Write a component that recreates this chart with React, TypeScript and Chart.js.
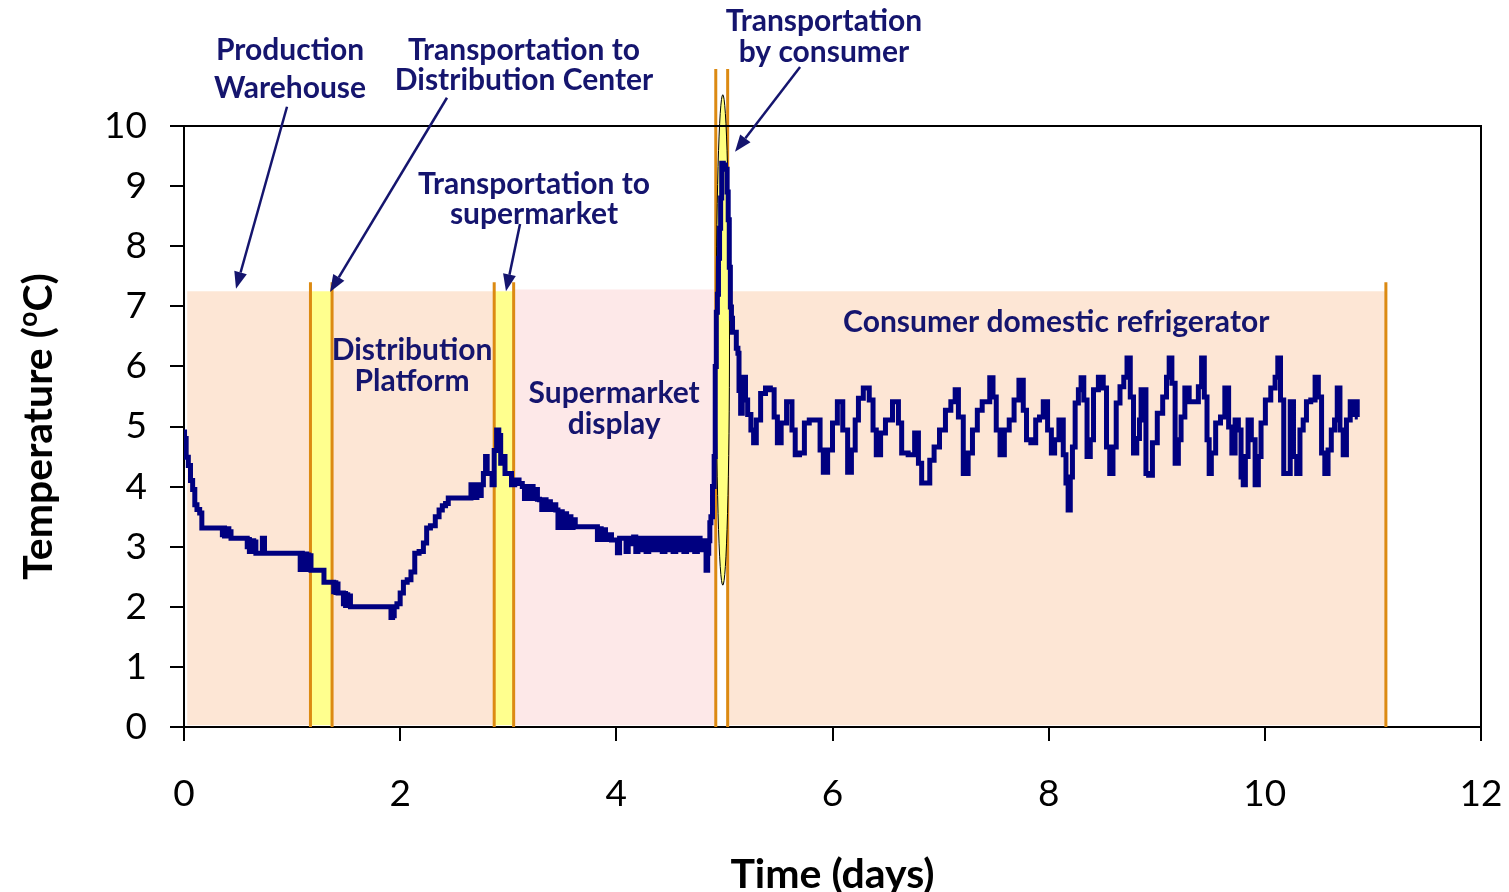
import React, { useEffect, useRef } from 'react';
import { Chart, registerables } from 'chart.js';

Chart.register(...registerables);

// ---------- data ----------
const xTickValues = [0, 2, 4, 6, 8, 10, 12];
const yTickValues = [0, 1, 2, 3, 4, 5, 6, 7, 8, 9, 10];

// [day, °C] readings per stage
const warehouseReadings = [
  [0, 4.91], [0.01, 4.8], [0.03, 4.49], [0.05, 4.35], [0.07, 4.1], [0.09, 3.95], [0.11, 3.7], [0.13, 3.62],
  [0.16, 3.56], [0.17, 3.31], [0.35, 3.31], [0.36, 3.2], [0.37, 3.31], [0.38, 3.18], [0.39, 3.3], [0.4, 3.18],
  [0.41, 3.3], [0.42, 3.18], [0.43, 3.25], [0.44, 3.14], [0.58, 3.14], [0.59, 3.0], [0.6, 3.12], [0.61, 2.92],
  [0.62, 3.1], [0.63, 2.92], [0.64, 3.1], [0.65, 2.92], [0.66, 3.08], [0.67, 2.89], [0.72, 2.89], [0.73, 3.14],
  [0.74, 3.14], [0.75, 2.89], [1.07, 2.89], [1.08, 2.62], [1.09, 2.89], [1.1, 2.62], [1.11, 2.88], [1.12, 2.62],
  [1.13, 2.88], [1.14, 2.64], [1.15, 2.86], [1.16, 2.62],
];

const platformReadings = [
  [1.17, 2.85], [1.18, 2.61], [1.29, 2.61], [1.3, 2.41], [1.38, 2.41], [1.39, 2.25], [1.4, 2.4], [1.41, 2.24],
  [1.42, 2.38], [1.43, 2.23], [1.47, 2.23], [1.48, 2.05], [1.49, 2.22], [1.5, 2.02], [1.51, 2.2], [1.52, 2.02],
  [1.53, 2.18], [1.55, 2.0], [1.91, 2.0], [1.92, 1.82], [1.94, 1.85], [1.95, 2.0], [1.99, 2.05], [2.01, 2.23],
  [2.05, 2.41], [2.08, 2.45], [2.12, 2.58], [2.15, 2.89], [2.2, 2.92], [2.23, 3.06], [2.26, 3.31], [2.3, 3.35],
  [2.35, 3.5], [2.37, 3.61], [2.41, 3.68], [2.43, 3.72], [2.46, 3.81], [2.65, 3.81], [2.66, 4.03], [2.67, 3.82],
  [2.69, 4.03], [2.7, 3.82], [2.72, 4.03], [2.74, 3.85], [2.76, 4.03], [2.78, 4.22], [2.8, 4.5], [2.81, 4.22],
  [2.84, 4.22], [2.86, 4.03],
];

const supermarketReadings = [
  [2.88, 4.6], [2.905, 4.94], [2.92, 4.85], [2.94, 4.39], [2.96, 4.5], [2.98, 4.22], [3.02, 4.22], [3.04, 4.03],
  [3.08, 4.11], [3.12, 4.05], [3.14, 4.0], [3.16, 3.8], [3.18, 4.0], [3.2, 3.8], [3.22, 4.0], [3.24, 3.8],
  [3.26, 3.95], [3.28, 3.79], [3.3, 3.78], [3.32, 3.62], [3.34, 3.78], [3.36, 3.62], [3.38, 3.75], [3.4, 3.62],
  [3.43, 3.7], [3.45, 3.61], [3.47, 3.32], [3.49, 3.58], [3.51, 3.32], [3.53, 3.55], [3.55, 3.32], [3.57, 3.5],
  [3.59, 3.32], [3.61, 3.45], [3.63, 3.33], [3.82, 3.33], [3.83, 3.12], [3.85, 3.3], [3.87, 3.12], [3.89, 3.28],
  [3.91, 3.12], [3.94, 3.2], [3.97, 3.11], [4.0, 3.11], [4.02, 2.9], [4.04, 3.14], [4.08, 3.14], [4.1, 2.92],
  [4.12, 3.14], [4.15, 3.05], [4.17, 3.16], [4.19, 2.92], [4.21, 3.14], [4.24, 2.95], [4.26, 3.14], [4.29, 2.92],
  [4.31, 3.14], [4.34, 2.95], [4.36, 3.14], [4.39, 2.95], [4.41, 3.14], [4.44, 2.92], [4.46, 3.14], [4.49, 2.95],
  [4.51, 3.14], [4.54, 2.92], [4.56, 3.14], [4.59, 2.95], [4.61, 3.14], [4.64, 2.92], [4.66, 3.14], [4.69, 2.95],
  [4.71, 3.14], [4.74, 2.92], [4.76, 3.14], [4.79, 2.95], [4.82, 3.1], [4.84, 2.61], [4.85, 2.89], [4.86, 3.1],
  [4.87, 3.4], [4.88, 3.5], [4.9, 4.0], [4.91, 4.5],
];

const consumerTransportReadings = [
  [4.92, 6.0], [4.93, 6.9], [4.94, 7.2], [4.95, 7.8], [4.96, 8.3], [4.97, 8.8], [4.98, 9.38], [5.0, 9.35],
  [5.02, 9.28], [5.03, 8.9], [5.04, 8.44], [5.05, 7.65], [5.06, 6.99], [5.07, 6.8],
];

const fridgeReadings = [
  [5.08, 6.57], [5.1, 6.57], [5.12, 6.3], [5.13, 6.22], [5.14, 5.6], [5.16, 5.22], [5.17, 5.6], [5.19, 5.82],
  [5.2, 5.44], [5.23, 5.2], [5.26, 4.94], [5.28, 4.73], [5.31, 5.11], [5.36, 5.55], [5.4, 5.64], [5.45, 5.61],
  [5.47, 5.16], [5.51, 4.73], [5.54, 5.06], [5.61, 5.41], [5.64, 4.94], [5.67, 4.53], [5.72, 4.56], [5.76, 5.06],
  [5.81, 5.11], [5.87, 5.11], [5.9, 4.61], [5.93, 4.24], [5.98, 4.61], [6.02, 5.06], [6.07, 5.41], [6.12, 4.94],
  [6.16, 4.24], [6.19, 4.61], [6.23, 5.11], [6.25, 5.47], [6.32, 5.64], [6.36, 5.44], [6.39, 4.94], [6.42, 4.53],
  [6.47, 4.89], [6.51, 5.11], [6.6, 5.41], [6.62, 5.06], [6.66, 4.56], [6.74, 4.53], [6.78, 4.89], [6.81, 4.39],
  [6.84, 4.06], [6.88, 4.06], [6.92, 4.44], [6.96, 4.66], [7.02, 4.94], [7.07, 5.27], [7.12, 5.41], [7.15, 5.61],
  [7.18, 5.16], [7.24, 4.22], [7.27, 4.56], [7.32, 4.94], [7.36, 5.27], [7.41, 5.41], [7.44, 5.41], [7.47, 5.81],
  [7.5, 5.49], [7.53, 4.94], [7.57, 4.53], [7.61, 4.94], [7.66, 5.11], [7.7, 5.44], [7.75, 5.77], [7.78, 5.27],
  [7.81, 4.78], [7.86, 4.73], [7.9, 5.11], [7.93, 5.16], [7.97, 5.41], [8.01, 4.94], [8.04, 4.56], [8.07, 4.78],
  [8.12, 5.11], [8.15, 4.53], [8.17, 4.06], [8.19, 3.61], [8.21, 4.16], [8.23, 4.66], [8.26, 5.39], [8.29, 5.61],
  [8.31, 5.81], [8.34, 5.44], [8.37, 4.5], [8.4, 4.78], [8.43, 5.61], [8.49, 5.82], [8.52, 5.64], [8.55, 4.66],
  [8.58, 4.22], [8.61, 4.66], [8.64, 5.39], [8.68, 5.66], [8.71, 5.82], [8.74, 6.14], [8.77, 5.49], [8.8, 4.56],
  [8.83, 4.8], [8.85, 5.11], [8.86, 5.61], [8.89, 5.61], [8.91, 4.22], [8.94, 4.19], [8.98, 4.73], [9.03, 5.22],
  [9.08, 5.49], [9.1, 5.82], [9.13, 6.14], [9.15, 5.72], [9.19, 4.39], [9.21, 4.78], [9.24, 5.16], [9.28, 5.64],
  [9.32, 5.41], [9.37, 5.41], [9.4, 5.66], [9.43, 6.14], [9.45, 5.49], [9.48, 4.78], [9.49, 4.22], [9.52, 4.56],
  [9.57, 5.06], [9.61, 5.16], [9.65, 5.64], [9.68, 4.99], [9.71, 4.56], [9.74, 5.11], [9.77, 4.94], [9.79, 4.16],
  [9.81, 4.03], [9.83, 4.5], [9.86, 5.11], [9.89, 4.78], [9.93, 4.03], [9.95, 4.5], [9.98, 5.06], [10.03, 5.44],
  [10.08, 5.64], [10.11, 5.82], [10.13, 6.14], [10.16, 5.44], [10.19, 4.22], [10.22, 4.22], [10.25, 5.41],
  [10.28, 4.5], [10.31, 4.22], [10.34, 4.94], [10.37, 5.11], [10.4, 5.41], [10.45, 5.44], [10.48, 5.82],
  [10.51, 5.49], [10.54, 4.56], [10.57, 4.22], [10.6, 4.61], [10.63, 4.94], [10.66, 5.11], [10.68, 5.64],
  [10.71, 4.94], [10.74, 4.53], [10.77, 5.11], [10.81, 5.41], [10.83, 5.2], [10.85, 5.41], [10.86, 5.16],
];

// shaded stages: [start day, end day, top °C, kind]
const stageBands = [
  [0.03, 1.17, 7.25, 'storage'],
  [1.17, 1.37, 7.25, 'transport'],
  [1.37, 2.87, 7.25, 'storage'],
  [2.87, 3.05, 7.25, 'transport'],
  [3.05, 4.92, 7.28, 'display'],
  [5.03, 11.12, 7.25, 'storage'],
];

// stage boundary markers: [day, top °C]
const boundaryMarkers = [
  [1.17, 7.4], [1.37, 7.4], [2.87, 7.4], [3.05, 7.4], [4.92, 10.95], [5.03, 10.95], [11.12, 7.4],
];

// highlighted consumer-transport ellipse: [centre day, centre °C, half width days, half height °C]
const consumerEllipse = [4.985, 6.44, 0.062, 4.08];

// annotation labels: [text, day, °C baseline]
const stageLabels: [string, number, number][] = [
  ['Production', 0.981, 11.1],
  ['Warehouse', 0.981, 10.47],
  ['Transportation to', 3.146, 11.1],
  ['Distribution Center', 3.146, 10.6],
  ['Transportation', 5.921, 11.58],
  ['by consumer', 5.921, 11.07],
  ['Transportation to', 3.238, 8.87],
  ['supermarket', 3.238, 8.37],
  ['Distribution', 2.11, 6.1],
  ['Platform', 2.11, 5.59],
  ['Supermarket', 3.98, 5.39],
  ['display', 3.98, 4.88],
  ['Consumer domestic refrigerator', 8.07, 6.57],
];

// arrows: [from day, from °C, to day, to °C]
const labelArrows = [
  [0.953, 10.32, 0.481, 7.29],
  [2.433, 10.47, 1.351, 7.24],
  [3.109, 8.37, 2.979, 7.25],
  [5.7, 10.98, 5.098, 9.57],
];

const xAxisTitle = 'Time (days)';
const yAxisTitleMain = 'Temperature (';
const yAxisTitleSup = 'o';
const yAxisTitleEnd = 'C)';

// ---------- styles ----------
const FONT = 'Lato, "Open Sans", "DejaVu Sans", sans-serif';
const NAVY_TEXT = '#15156e';
const LINE_NAVY = '#000080';
const bandColors: Record<string, string> = {
  storage: '#FDE6D5',
  transport: '#FFFF8E',
  display: '#FDE8E8',
};
const ORANGE = '#DC8A12';

const decorPlugin = {
  id: 'decor',
  beforeDatasetsDraw(chart: any) {
    const { ctx, scales } = chart;
    const xs = scales.x;
    const ys = scales.y;
    ctx.save();
    for (const [s, e, top, kind] of stageBands as any[]) {
      const x0 = xs.getPixelForValue(s);
      const x1 = xs.getPixelForValue(e);
      const y0 = ys.getPixelForValue(top);
      const y1 = ys.getPixelForValue(0.03);
      ctx.fillStyle = bandColors[kind];
      ctx.fillRect(x0, y0, x1 - x0, y1 - y0);
    }
    ctx.strokeStyle = ORANGE;
    ctx.lineWidth = 3;
    for (const [d, top] of boundaryMarkers) {
      const x = xs.getPixelForValue(d);
      ctx.beginPath();
      ctx.moveTo(x, ys.getPixelForValue(0));
      ctx.lineTo(x, ys.getPixelForValue(top));
      ctx.stroke();
    }
    const [cx, cy, rx, ry] = consumerEllipse;
    const pcx = xs.getPixelForValue(cx);
    const pcy = ys.getPixelForValue(cy);
    const prx = Math.abs(xs.getPixelForValue(cx + rx) - pcx);
    const pry = Math.abs(ys.getPixelForValue(cy + ry) - pcy);
    ctx.beginPath();
    ctx.ellipse(pcx, pcy, prx, pry, 0, 0, Math.PI * 2);
    ctx.fillStyle = '#FFFF80';
    ctx.fill();
    ctx.strokeStyle = '#000';
    ctx.lineWidth = 1;
    ctx.stroke();
    ctx.restore();
  },
  afterDraw(chart: any) {
    const { ctx, scales, chartArea } = chart;
    const xs = scales.x;
    const ys = scales.y;
    ctx.save();
    // top & right frame
    ctx.strokeStyle = '#000';
    ctx.lineWidth = 2;
    ctx.beginPath();
    ctx.moveTo(chartArea.left, chartArea.top);
    ctx.lineTo(chartArea.right, chartArea.top);
    ctx.lineTo(chartArea.right, chartArea.bottom);
    ctx.stroke();

    // labels
    ctx.fillStyle = NAVY_TEXT;
    ctx.font = `bold 30px ${FONT}`;
    ctx.textAlign = 'center';
    ctx.textBaseline = 'alphabetic';
    for (const [t, d, v] of stageLabels) {
      ctx.fillText(t, xs.getPixelForValue(d), ys.getPixelForValue(v));
    }

    // arrows
    ctx.strokeStyle = NAVY_TEXT;
    ctx.fillStyle = NAVY_TEXT;
    ctx.lineWidth = 2.5;
    for (const [d0, v0, d1, v1] of labelArrows) {
      const x0 = xs.getPixelForValue(d0);
      const y0 = ys.getPixelForValue(v0);
      const x1 = xs.getPixelForValue(d1);
      const y1 = ys.getPixelForValue(v1);
      const ang = Math.atan2(y1 - y0, x1 - x0);
      const head = 17;
      const hw = 6.5;
      const bx = x1 - head * Math.cos(ang);
      const by = y1 - head * Math.sin(ang);
      ctx.beginPath();
      ctx.moveTo(x0, y0);
      ctx.lineTo(bx, by);
      ctx.stroke();
      ctx.beginPath();
      ctx.moveTo(x1, y1);
      ctx.lineTo(bx + hw * Math.sin(ang), by - hw * Math.cos(ang));
      ctx.lineTo(bx - hw * Math.sin(ang), by + hw * Math.cos(ang));
      ctx.closePath();
      ctx.fill();
    }

    // axis titles
    ctx.fillStyle = '#000';
    ctx.font = `bold 41px ${FONT}`;
    ctx.textAlign = 'center';
    ctx.fillText(xAxisTitle, (chartArea.left + chartArea.right) / 2, 888);

    ctx.translate(52, (chartArea.top + chartArea.bottom) / 2);
    ctx.rotate(-Math.PI / 2);
    const big = `bold 41px ${FONT}`;
    const small = `bold 27px ${FONT}`;
    ctx.font = big;
    const w1 = ctx.measureText(yAxisTitleMain).width;
    const w3 = ctx.measureText(yAxisTitleEnd).width;
    ctx.font = small;
    const w2 = ctx.measureText(yAxisTitleSup).width;
    let x = -(w1 + w2 + w3) / 2;
    ctx.textAlign = 'left';
    ctx.font = big;
    ctx.fillText(yAxisTitleMain, x, 0);
    x += w1;
    ctx.font = small;
    ctx.fillText(yAxisTitleSup, x, -15);
    x += w2;
    ctx.font = big;
    ctx.fillText(yAxisTitleEnd, x, 0);
    ctx.restore();
  },
};

export default function App() {
  const ref = useRef<HTMLCanvasElement>(null);
  useEffect(() => {
    const series = [
      ...warehouseReadings,
      ...platformReadings,
      ...supermarketReadings,
      ...consumerTransportReadings,
      ...fridgeReadings,
    ].map(([x, y]) => ({ x, y }));
    const chart = new Chart(ref.current as HTMLCanvasElement, {
      type: 'line',
      data: {
        datasets: [
          {
            data: series,
            borderColor: LINE_NAVY,
            borderWidth: 5,
            pointRadius: 0,
            tension: 0,
            stepped: 'middle',
            borderJoinStyle: 'miter',
            fill: false,
          },
        ],
      },
      options: {
        responsive: false,
        animation: false,
        layout: { padding: { top: 126, right: 28, left: 0, bottom: 0 } },
        plugins: { legend: { display: false }, tooltip: { enabled: false }, title: { display: false } },
        scales: {
          x: {
            type: 'linear',
            min: 0,
            max: 12,
            afterFit: (s: any) => {
              s.height = 165;
              s.paddingLeft = 0;
              s.paddingRight = 0;
            },
            afterBuildTicks: (s: any) => {
              s.ticks = xTickValues.map((v) => ({ value: v }));
            },
            ticks: {
              font: { family: FONT, size: 37 },
              color: '#000',
              padding: 31,
              maxRotation: 0,
              autoSkip: false,
            },
            grid: { drawOnChartArea: false, drawTicks: true, tickLength: 14, color: '#000', lineWidth: 2 },
            border: { display: true, color: '#000', width: 2 },
          },
          y: {
            type: 'linear',
            min: 0,
            max: 10,
            afterFit: (s: any) => {
              s.width = 184;
              s.paddingTop = 0;
              s.paddingBottom = 0;
            },
            afterBuildTicks: (s: any) => {
              s.ticks = yTickValues.map((v) => ({ value: v }));
            },
            ticks: {
              font: { family: FONT, size: 37 },
              color: '#000',
              padding: 23,
              autoSkip: false,
            },
            grid: { drawOnChartArea: false, drawTicks: true, tickLength: 14, color: '#000', lineWidth: 2 },
            border: { display: true, color: '#000', width: 2 },
          },
        },
      },
      plugins: [decorPlugin],
    } as any);
    return () => chart.destroy();
  }, []);
  return (
    <div style={{ position: 'fixed', left: 0, top: 0, width: 1509, height: 892, background: '#fff' }}>
      <canvas ref={ref} width={1509} height={892} style={{ display: 'block' }} />
    </div>
  );
}
